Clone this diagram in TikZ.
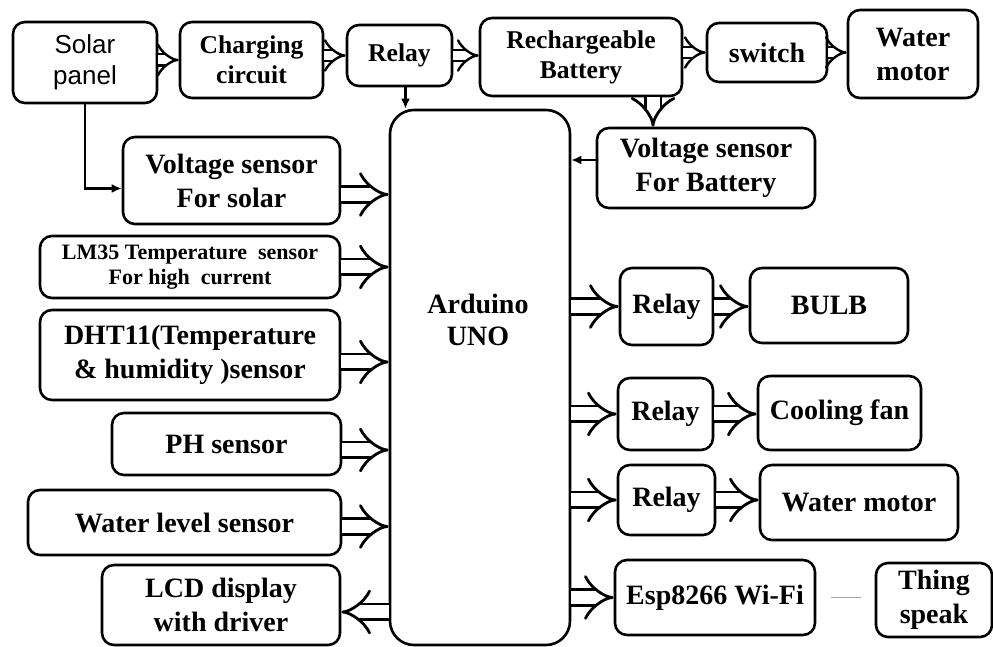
\documentclass[tikz,border=0pt]{standalone}
\usepackage{fontspec}
\setmainfont{Liberation Serif}
\newfontfamily\solarfont{Liberation Sans}
\usetikzlibrary{arrows.meta,positioning,calc}

\begin{document}
\begin{tikzpicture}[
  x=0.5pt, y=-0.5pt,
  box/.style={draw, rounded corners=6pt, line width=1.3pt, align=center, inner sep=0pt, font=\fontsize{14}{17}\selectfont\bfseries},
  topbox/.style={box, font=\fontsize{12.8}{15}\selectfont\bfseries},
  fat/.style={double, double distance=6.5pt, line width=1.4pt, -{Implies}},
  fatsmall/.style={double, double distance=4.5pt, line width=1.2pt, -{Implies}},
  thin/.style={line width=1.2pt, -{Latex[length=5pt,width=4.5pt]}},
  link/.style={line width=0.5pt, draw=blue!20!gray!60}
]
\useasboundingbox (0,0) rectangle (993,647);
% top row
\node[box, minimum width=72pt, minimum height=40.5pt, font=\solarfont\fontsize{13}{15.5}\selectfont] (solar) at (85,62.5) {Solar\\panel};
\node[topbox, minimum width=71.5pt, minimum height=38pt] (chg) at (251.5,60) {Charging\\circuit};
\node[topbox, minimum width=52.5pt, minimum height=30.5pt] (rtop) at (399.5,55.5) {Relay};
\node[topbox, minimum width=101pt, minimum height=39pt] (bat) at (581,57) {Rechargeable\\Battery};
\node[box, minimum width=60pt, minimum height=29.5pt] (sw) at (767,52.5) {switch};
\node[box, minimum width=65pt, minimum height=44pt] (wmtop) at (913,54) {Water\\motor};
% controller
\node[box, rounded corners=12pt, minimum width=90pt, minimum height=267.5pt] (ard) at (480,377.5) {};
\node[font=\fontsize{14}{16}\selectfont\bfseries, align=center] (ardtxt) at (478,320) {Arduino\\UNO};
% inputs
\node[box, minimum width=108.5pt, minimum height=43.5pt] (vss) at (231.5,180.5) {Voltage sensor\\For solar};
\node[box, minimum width=150pt, minimum height=31pt, font=\fontsize{11}{12.5}\selectfont\bfseries] (lm) at (190,267) {LM35 Temperature~ sensor\\For high~ current};
\node[box, minimum width=150pt, minimum height=45pt] (dht) at (190,355) {DHT11(Temperature\\\& humidity )sensor};
\node[box, minimum width=114.5pt, minimum height=31pt] (ph) at (226.5,444) {PH sensor};
\node[box, minimum width=156.5pt, minimum height=32.5pt] (wl) at (184.5,522.5) {Water level sensor};
\node[box, minimum width=119pt, minimum height=40pt] (lcd) at (221,605) {LCD display\\with driver};
% outputs
\node[box, minimum width=109pt, minimum height=40pt] (vsb) at (706,168) {Voltage sensor\\For Battery};
\node[box, minimum width=46.5pt, minimum height=38.5pt] (r1) at (666.5,306.5) {Relay};
\node[box, minimum width=79pt, minimum height=37.5pt] (bulb) at (829,305.5) {BULB};
\node[box, minimum width=47.5pt, minimum height=36pt] (r2) at (665.5,414) {Relay};
\node[box, minimum width=81.5pt, minimum height=37pt] (fan) at (839.5,413) {Cooling fan};
\node[box, minimum width=48.5pt, minimum height=35pt] (r3) at (666.5,500) {Relay};
\node[box, minimum width=99pt, minimum height=37.5pt] (wm) at (859,502.5) {Water motor};
\node[box, minimum width=100pt, minimum height=37.5pt] (esp) at (715,597.5) {Esp8266 Wi-Fi};
\node[box, minimum width=58pt, minimum height=37pt] (thing) at (934,600) {Thing\\speak};
% top row arrows
\draw[fatsmall] (solar.east |- chg) -- (chg.west);
\draw[fatsmall] (chg.east |- rtop) -- (rtop.west);
\draw[fatsmall] (rtop.east) -- (rtop.east -| bat.west);
\draw[fatsmall] (bat.east |- sw) -- (sw.west);
\draw[fatsmall] (sw.east) -- (sw.east -| wmtop.west);
\draw[fat] ([xshift=36pt]bat.south) -- ([xshift=36pt]bat.south |- vsb.north);
% signal lines
\draw[thin] (solar.south) |- ([yshift=-4pt]vss.west);
\draw[thin] ([xshift=3pt]rtop.south) -- ([xshift=3pt]rtop.south |- ard.north);
\draw[thin] ([yshift=4pt]vsb.west) -- ([yshift=4pt]vsb.west -| ard.east);
% sensors to controller
\draw[fat] ([yshift=-7pt]vss.east) -- ([yshift=-7pt]vss.east -| ard.west);
\draw[fat] (lm.east) -- (lm.east -| ard.west);
\draw[fat] ([yshift=-3.5pt]dht.east) -- ([yshift=-3.5pt]dht.east -| ard.west);
\draw[fat] ([yshift=-3pt]ph.east) -- ([yshift=-3pt]ph.east -| ard.west);
\draw[fat] ([yshift=-2pt]wl.east) -- ([yshift=-2pt]wl.east -| ard.west);
\draw[fat] ([yshift=-3.5pt]lcd.east -| ard.west) -- ([yshift=-3.5pt]lcd.east);
% controller to outputs
\draw[fat] (ard.east |- r1) -- (r1.west);
\draw[fat] (r1.east) -- (r1.east -| bulb.west);
\draw[fat] (ard.east |- r2) -- (r2.west);
\draw[fat] (r2.east) -- (r2.east -| fan.west);
\draw[fat] (ard.east |- r3) -- (r3.west);
\draw[fat] (r3.east) -- (r3.east -| wm.west);
\draw[fat] (ard.east |- esp) -- (esp.west);
\draw[link, shorten <=7.5pt, shorten >=7pt] (esp.east) -- (esp.east -| thing.west);
\end{tikzpicture}
\end{document}
